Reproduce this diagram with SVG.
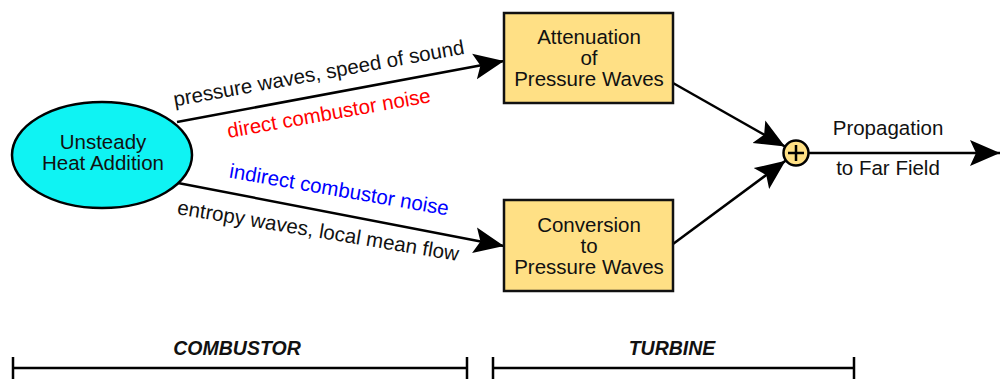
<svg xmlns="http://www.w3.org/2000/svg" width="1000" height="379" viewBox="0 0 1000 379">
<style>
  text { font-family: "Liberation Sans", Arial, sans-serif; font-size: 20.5px; fill: #111; }
  .ctr { text-anchor: middle; }
  .box { fill: #FFE085; stroke: #111; stroke-width: 2.5; }
  .conn { stroke: #000; stroke-width: 2.5; fill: none; }
  .bracket { stroke: #000; stroke-width: 2.5; fill: none; }
  .sec { font-weight: bold; font-style: italic; font-size: 19.5px; text-anchor: middle; }
</style>
<defs>
  <marker id="arr" markerUnits="userSpaceOnUse" markerWidth="32" markerHeight="28" viewBox="0 -14 32 28" refX="30" refY="0" orient="auto">
    <path d="M0,-13 L30,0 L0,13 L6,0 z" fill="#000"/>
  </marker>
</defs>
<g id="connectors">
  <line class="conn" x1="177" y1="122" x2="504" y2="61" marker-end="url(#arr)"/>
  <line class="conn" x1="178" y1="183" x2="504" y2="246" marker-end="url(#arr)"/>
  <line class="conn" x1="673" y1="83" x2="785" y2="146.5" marker-end="url(#arr)"/>
  <line class="conn" x1="673" y1="244" x2="785.5" y2="160.7" marker-end="url(#arr)"/>
  <line class="conn" x1="809" y1="153" x2="1000" y2="153" marker-end="url(#arr)"/>
  <text class="ctr" transform="translate(320,80) rotate(-10.3)">pressure waves, speed of sound</text>
  <text class="ctr" style="fill:#ff0000" transform="translate(330,120) rotate(-10)">direct combustor noise</text>
  <text class="ctr" style="fill:#0000ff" transform="translate(338,196.5) rotate(9.8)">indirect combustor noise</text>
  <text class="ctr" transform="translate(317,237.5) rotate(9.5)">entropy waves, local mean flow</text>
  <text class="ctr" x="888" y="135">Propagation</text>
  <text class="ctr" x="888" y="175">to Far Field</text>
</g>
<g id="heat">
  <ellipse cx="102" cy="155" rx="90" ry="53" fill="#0FF3F3" stroke="#000" stroke-width="2.5"/>
  <text class="ctr" x="103" y="149">Unsteady</text>
  <text class="ctr" x="103" y="170">Heat Addition</text>
</g>
<g id="attenuation">
  <rect class="box" x="504" y="13" width="169" height="90"/>
  <text class="ctr" x="589" y="44">Attenuation</text>
  <text class="ctr" x="589" y="65">of</text>
  <text class="ctr" x="589" y="86">Pressure Waves</text>
</g>
<g id="conversion">
  <rect class="box" x="504" y="200" width="169" height="91"/>
  <text class="ctr" x="589" y="232">Conversion</text>
  <text class="ctr" x="589" y="253">to</text>
  <text class="ctr" x="589" y="274">Pressure Waves</text>
</g>
<g id="sum">
  <circle cx="796" cy="153" r="12.5" fill="#FFE085" stroke="#000" stroke-width="2.5"/>
  <path d="M788,153 H804 M796,145 V161" stroke="#000" stroke-width="2.5"/>
</g>
<g id="combustor">
  <path class="bracket" d="M13,368 H467 M13,357 V379 M467,357 V379"/>
  <text class="sec" x="237" y="355">COMBUSTOR</text>
</g>
<g id="turbine">
  <path class="bracket" d="M493,368 H854 M493,357 V379 M854,357 V379"/>
  <text class="sec" x="672" y="355">TURBINE</text>
</g>
</svg>
